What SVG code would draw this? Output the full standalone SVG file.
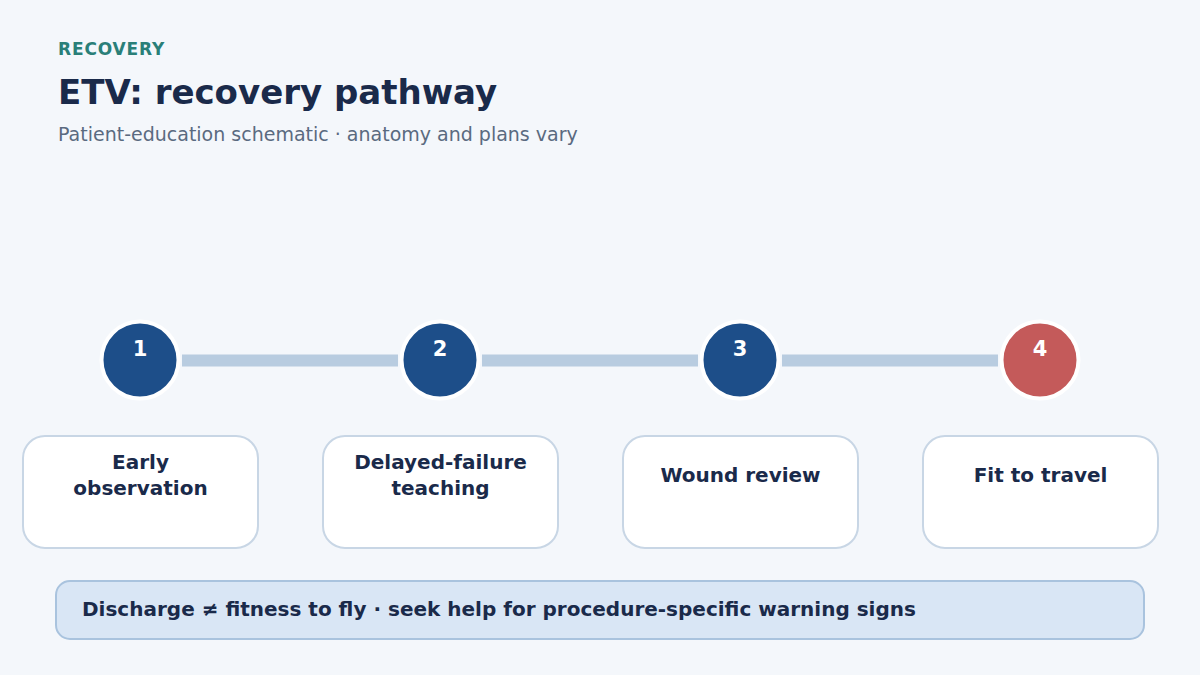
<svg xmlns="http://www.w3.org/2000/svg" width="1200" height="675" viewBox="0 0 1200 675">
<style>
.bg{fill:#f4f7fb}
.kicker{font-family:"DejaVu Sans",sans-serif;font-weight:bold;font-size:17px;fill:#2a7f78;letter-spacing:0.85px}
.title{font-family:"DejaVu Sans",sans-serif;font-weight:bold;font-size:34px;fill:#1a2a4a}
.sub{font-family:"DejaVu Sans",sans-serif;font-size:19px;fill:#5a6a80}
.bar{stroke:#b8cce0;stroke-width:12}
.dot{fill:#1d4e89;stroke:#ffffff;stroke-width:4}
.dot.last{fill:#c45a5a}
.num{font-family:"DejaVu Sans",sans-serif;font-weight:bold;font-size:21px;fill:#ffffff;text-anchor:middle}
.card{fill:#ffffff;stroke:#c8d6e5;stroke-width:2}
.lbl{font-family:"DejaVu Sans",sans-serif;font-weight:bold;font-size:20px;fill:#1a2a4a;text-anchor:middle}
.banner{fill:#d9e6f5;stroke:#a9c3de;stroke-width:2}
.btxt{font-family:"DejaVu Sans",sans-serif;font-weight:bold;font-size:20px;fill:#1a2a4a}
</style>
<rect class="bg" x="0" y="0" width="1200" height="675"/>
<text class="kicker" x="58" y="55">RECOVERY</text>
<text class="title" x="58" y="104">ETV: recovery pathway</text>
<text class="sub" x="58" y="141">Patient-education schematic · anatomy and plans vary</text>
<g id="connectors">
<line class="bar" x1="182" y1="360.5" x2="398" y2="360.5"/>
<line class="bar" x1="482" y1="360.5" x2="698" y2="360.5"/>
<line class="bar" x1="782" y1="360.5" x2="998" y2="360.5"/>
</g>
<g id="step1">
<circle class="dot" cx="140" cy="360" r="38.5"/>
<text class="num" x="140" y="356">1</text>
<rect class="card" x="23" y="436" width="235" height="112" rx="22"/>
<text class="lbl" x="140.5" y="469">Early</text>
<text class="lbl" x="140.5" y="495">observation</text>
</g>
<g id="step2">
<circle class="dot" cx="440" cy="360" r="38.5"/>
<text class="num" x="440" y="356">2</text>
<rect class="card" x="323" y="436" width="235" height="112" rx="22"/>
<text class="lbl" x="440.5" y="469">Delayed-failure</text>
<text class="lbl" x="440.5" y="495">teaching</text>
</g>
<g id="step3">
<circle class="dot" cx="740" cy="360" r="38.5"/>
<text class="num" x="740" y="356">3</text>
<rect class="card" x="623" y="436" width="235" height="112" rx="22"/>
<text class="lbl" x="740.5" y="482">Wound review</text>
</g>
<g id="step4">
<circle class="dot last" cx="1040" cy="360" r="38.5"/>
<text class="num" x="1040" y="356">4</text>
<rect class="card" x="923" y="436" width="235" height="112" rx="22"/>
<text class="lbl" x="1040.5" y="482">Fit to travel</text>
</g>
<g id="note">
<rect class="banner" x="56" y="581" width="1088" height="58" rx="14"/>
<text class="btxt" x="82" y="616">Discharge ≠ fitness to fly · seek help for procedure-specific warning signs</text>
</g>
</svg>
